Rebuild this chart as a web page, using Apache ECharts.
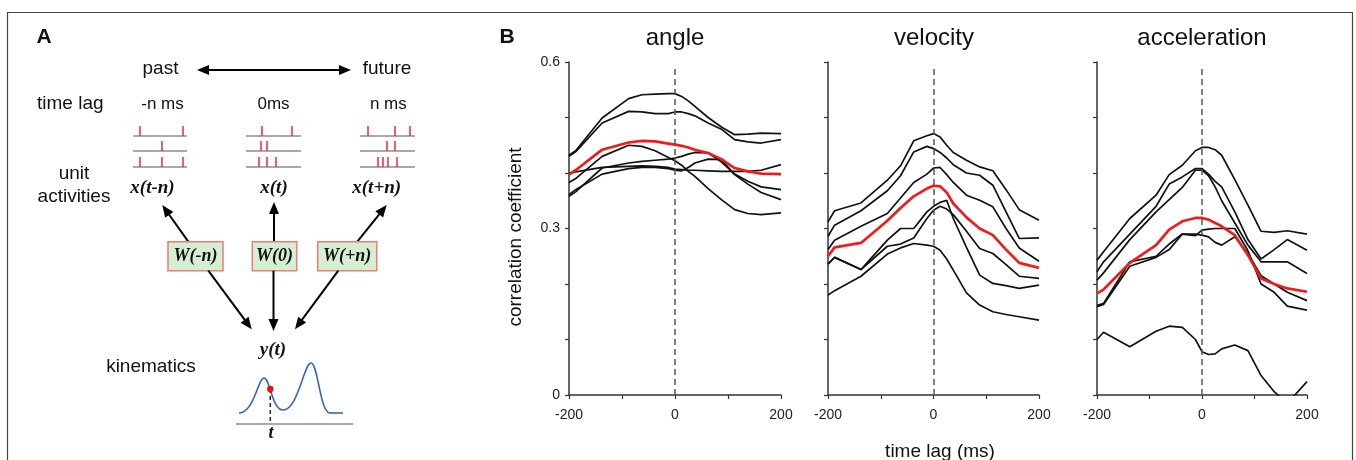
<!DOCTYPE html>
<html>
<head>
<meta charset="utf-8">
<script src="https://cdn.jsdelivr.net/npm/echarts@6/dist/echarts.min.js"></script>
<style>html,body{margin:0;padding:0;background:#fff}#c{width:1356px;height:460px}</style>
</head>
<body>
<div id="c"></div>
<script>
// ---------- DATA ----------
const lags = [-200, -187.5, -137.5, -87.5, -62.5, -37.5, -12.5, 0, 12.5, 25, 37.5, 62.5, 87.5, 112.5, 137.5, 162.5, 200];
const xTickLabels = ['-200', '0', '200'];
const yTickLabels = ['0', '0.3', '0.6'];
const panelTitles = ['angle', 'velocity', 'acceleration'];

const angleUnit1 = [0.432, 0.440, 0.499, 0.534, 0.541, 0.542, 0.543, 0.543, 0.538, 0.530, 0.520, 0.500, 0.483, 0.469, 0.470, 0.472, 0.471];
const angleUnit2 = [0.430, 0.438, 0.490, 0.511, 0.510, 0.507, 0.507, 0.510, 0.510, 0.507, 0.503, 0.490, 0.479, 0.460, 0.456, 0.454, 0.460];
const angleUnit3 = [0.383, 0.390, 0.430, 0.450, 0.448, 0.440, 0.428, 0.422, 0.414, 0.403, 0.394, 0.372, 0.352, 0.334, 0.327, 0.325, 0.328];
const angleUnit4 = [0.400, 0.402, 0.410, 0.412, 0.413, 0.412, 0.410, 0.407, 0.406, 0.405, 0.405, 0.404, 0.403, 0.403, 0.403, 0.405, 0.415];
const angleUnit5 = [0.358, 0.366, 0.409, 0.418, 0.421, 0.423, 0.425, 0.427, 0.430, 0.434, 0.437, 0.436, 0.420, 0.398, 0.385, 0.375, 0.370];
const angleUnit6 = [0.361, 0.370, 0.398, 0.408, 0.410, 0.410, 0.408, 0.405, 0.404, 0.410, 0.418, 0.425, 0.424, 0.397, 0.380, 0.365, 0.352];
const angleMean  = [0.397, 0.405, 0.442, 0.455, 0.458, 0.457, 0.453, 0.451, 0.449, 0.446, 0.442, 0.436, 0.425, 0.409, 0.403, 0.399, 0.398];

const velocityUnit1 = [0.312, 0.332, 0.346, 0.387, 0.413, 0.458, 0.467, 0.471, 0.465, 0.450, 0.437, 0.423, 0.411, 0.404, 0.370, 0.334, 0.315];
const velocityUnit2 = [0.286, 0.306, 0.332, 0.368, 0.395, 0.438, 0.448, 0.444, 0.437, 0.427, 0.415, 0.400, 0.396, 0.378, 0.330, 0.282, 0.283];
const velocityUnit3 = [0.262, 0.279, 0.304, 0.327, 0.355, 0.383, 0.398, 0.409, 0.410, 0.397, 0.383, 0.360, 0.351, 0.339, 0.300, 0.265, 0.241];
const velocityUnit4 = [0.236, 0.248, 0.226, 0.279, 0.300, 0.300, 0.330, 0.340, 0.347, 0.351, 0.318, 0.266, 0.216, 0.201, 0.197, 0.192, 0.198];
const velocityUnit5 = [0.236, 0.248, 0.226, 0.268, 0.272, 0.283, 0.318, 0.333, 0.340, 0.335, 0.325, 0.295, 0.264, 0.255, 0.235, 0.214, 0.210];
const velocityUnit6 = [0.180, 0.188, 0.214, 0.254, 0.265, 0.273, 0.270, 0.268, 0.261, 0.245, 0.225, 0.184, 0.162, 0.150, 0.145, 0.141, 0.135];
const velocityMean  = [0.250, 0.266, 0.274, 0.314, 0.337, 0.358, 0.372, 0.377, 0.376, 0.365, 0.345, 0.320, 0.300, 0.288, 0.262, 0.238, 0.229];

const accelUnit1 = [0.243, 0.258, 0.318, 0.360, 0.397, 0.414, 0.440, 0.446, 0.446, 0.442, 0.432, 0.388, 0.342, 0.295, 0.293, 0.296, 0.290];
const accelUnit2 = [0.222, 0.240, 0.290, 0.340, 0.380, 0.393, 0.408, 0.408, 0.398, 0.385, 0.375, 0.330, 0.280, 0.245, 0.262, 0.280, 0.261];
const accelUnit3 = [0.207, 0.220, 0.280, 0.330, 0.352, 0.374, 0.405, 0.405, 0.395, 0.375, 0.350, 0.310, 0.270, 0.240, 0.240, 0.240, 0.219];
const accelUnit4 = [0.161, 0.165, 0.240, 0.250, 0.272, 0.290, 0.287, 0.297, 0.299, 0.300, 0.300, 0.300, 0.260, 0.200, 0.185, 0.160, 0.153];
const accelUnit5 = [0.159, 0.163, 0.232, 0.248, 0.262, 0.290, 0.290, 0.288, 0.285, 0.275, 0.270, 0.285, 0.255, 0.215, 0.200, 0.185, 0.170];
const accelUnit6 = [0.100, 0.113, 0.087, 0.115, 0.124, 0.122, 0.100, 0.078, 0.073, 0.074, 0.083, 0.090, 0.080, 0.035, 0.006, -0.015, 0.024];
const accelMean  = [0.183, 0.190, 0.238, 0.270, 0.298, 0.313, 0.319, 0.319, 0.316, 0.310, 0.304, 0.288, 0.252, 0.210, 0.200, 0.192, 0.186];

const panelUnits = [
  [angleUnit1, angleUnit2, angleUnit3, angleUnit4, angleUnit5, angleUnit6],
  [velocityUnit1, velocityUnit2, velocityUnit3, velocityUnit4, velocityUnit5, velocityUnit6],
  [accelUnit1, accelUnit2, accelUnit3, accelUnit4, accelUnit5, accelUnit6]
];
const panelMeans = [angleMean, velocityMean, accelMean];

// ---------- LAYOUT ----------
const SANS = '"Liberation Sans", Arial, Helvetica, sans-serif';
const SERIF = '"Liberation Serif", "Times New Roman", serif';
const grids = [
  {left: 569, top: 62, width: 212, height: 333},
  {left: 828, top: 62, width: 211, height: 333},
  {left: 1097, top: 62, width: 210, height: 333}
];

const xAxes = grids.map((g, i) => ({
  type: 'value', gridIndex: i, min: -200, max: 200, interval: 100,
  axisLine: {show: true, onZero: false, lineStyle: {color: '#333', width: 1.5}},
  axisTick: {show: true, length: 4, lineStyle: {color: '#333', width: 1.2}},
  splitLine: {show: false},
  axisLabel: {
    color: '#222', fontSize: 14, fontFamily: SANS, margin: 13,
    formatter: v => { const s = String(Math.round(v)); return xTickLabels.indexOf(s) >= 0 ? s : ''; }
  }
}));
const yAxes = grids.map((g, i) => ({
  type: 'value', gridIndex: i, min: 0, max: 0.6, interval: 0.1,
  axisLine: {show: true, onZero: false, lineStyle: {color: '#333', width: 1.5}},
  axisTick: {show: true, length: 4, lineStyle: {color: '#333', width: 1.2}},
  splitLine: {show: false},
  axisLabel: {
    show: i === 0, color: '#222', fontSize: 14, fontFamily: SANS, margin: 9,
    formatter: v => { const s = String(Math.round(v * 10) / 10); return yTickLabels.indexOf(s) >= 0 ? s : ''; }
  }
}));

const series = [];
panelUnits.forEach((units, p) => {
  units.forEach((vals, k) => {
    const s = {
      type: 'line', xAxisIndex: p, yAxisIndex: p, symbol: 'none', silent: true,
      data: lags.map((x, j) => [x, vals[j]]),
      lineStyle: {color: '#111', width: 1.7}, z: 3, clip: true
    };
    if (k === 0) {
      s.markLine = {
        silent: true, symbol: ['none', 'none'], label: {show: false},
        lineStyle: {color: '#555', width: 1.5, type: [6, 4]},
        data: [[{coord: [0, 0]}, {coord: [0, 0.59]}]]
      };
    }
    series.push(s);
  });
  series.push({
    type: 'line', xAxisIndex: p, yAxisIndex: p, symbol: 'none', silent: true,
    data: lags.map((x, j) => [x, panelMeans[p][j]]),
    lineStyle: {color: '#ee1c1c', width: 2.7}, z: 4
  });
});

// ---------- GRAPHIC (panel A diagram + texts) ----------
const G = [];
function txt(x, y, str, font, opts) {
  opts = opts || {};
  G.push(Object.assign({
    type: 'text', x: x, y: y, silent: true,
    style: {text: str, font: font, fill: opts.fill || '#111',
      textAlign: opts.align || 'center', align: opts.align || 'center',
      textVerticalAlign: 'middle', verticalAlign: 'middle'}
  }, opts.rotation ? {rotation: opts.rotation} : {}));
}
function seg(x1, y1, x2, y2, color, w, dash) {
  G.push({type: 'line', silent: true, shape: {x1, y1, x2, y2},
    style: {stroke: color, lineWidth: w, lineDash: dash || null}});
}
function arrow(x1, y1, x2, y2, both) {
  const L = 12, W = 10;
  const dx = x2 - x1, dy = y2 - y1, len = Math.sqrt(dx * dx + dy * dy);
  const ux = dx / len, uy = dy / len, px = -uy, py = ux;
  const head = (tx, ty, sx, sy) => {
    G.push({type: 'polygon', silent: true, shape: {points: [
      [tx, ty],
      [tx - sx * L + px * W / 2, ty - sy * L + py * W / 2],
      [tx - sx * L - px * W / 2, ty - sy * L - py * W / 2]
    ]}, style: {fill: '#000'}});
  };
  const sx = both ? x1 + ux * (L - 1) : x1, sy = both ? y1 + uy * (L - 1) : y1;
  seg(sx, sy, x2 - ux * (L - 1), y2 - uy * (L - 1), '#000', 2);
  head(x2, y2, ux, uy);
  if (both) head(x1, y1, -ux, -uy);
}

// frame
G.push({type: 'rect', silent: true, shape: {x: 7.5, y: 12.5, width: 1345, height: 480},
  style: {fill: 'none', stroke: '#444', lineWidth: 1.2}});

// panel letters
txt(44, 37, 'A', 'bold 21px ' + SANS, {});
txt(507, 37, 'B', 'bold 21px ' + SANS, {});

// panel A texts
txt(160.5, 69, 'past', '19px ' + SANS);
txt(387, 69, 'future', '19px ' + SANS);
arrow(197, 70, 351, 70, true);
txt(37, 104, 'time lag', '19px ' + SANS, {align: 'left'});
txt(162.5, 104, '-n ms', '17px ' + SANS);
txt(273.5, 104, '0ms', '17px ' + SANS);
txt(388.3, 104, 'n ms', '17px ' + SANS);
txt(74, 173.5, 'unit', '19px ' + SANS);
txt(74, 196.5, 'activities', '19px ' + SANS);
txt(151, 367, 'kinematics', '19px ' + SANS);

// spike rasters
const rasterGroups = [
  {x0: 133, x1: 187, rows: [[140, 183], [162], [140, 162, 183]]},
  {x0: 246, x1: 301, rows: [[262, 292], [261, 267], [259, 267, 276]]},
  {x0: 360, x1: 415, rows: [[368, 395, 410], [387, 395], [378, 383, 388, 397]]}
];
const rowY = [136, 151, 167];
rasterGroups.forEach(g => {
  rowY.forEach((y, r) => {
    seg(g.x0, y, g.x1, y, '#8c8c8c', 1.5);
    g.rows[r].forEach(sx => seg(sx, y - 10, sx, y, '#ec2a35', 1.5));
  });
});

// x labels
const BI = 'italic bold 19px ' + SERIF;
txt(152.5, 188.5, 'x(t-n)', BI);
txt(274, 188.5, 'x(t)', BI);
txt(376.7, 188.5, 'x(t+n)', BI);

// arrows to unit activities
arrow(188.3, 241.7, 162.3, 205);
arrow(274, 241.7, 274, 202);
arrow(357.3, 241.7, 386.7, 205);

// W boxes
const boxes = [
  {x: 168, w: 55, t: 'W(-n)'},
  {x: 252.3, w: 44.4, t: 'W(0)'},
  {x: 317.7, w: 59, t: 'W(+n)'}
];
boxes.forEach(b => {
  G.push({type: 'rect', silent: true, shape: {x: b.x, y: 241.7, width: b.w, height: 29},
    style: {fill: '#d5efd3', stroke: '#f27a78', lineWidth: 1.5}});
  txt(b.x + b.w / 2, 256.5, b.t, 'italic bold 18px ' + SERIF);
});

// arrows to y(t)
arrow(208.3, 270.7, 251.7, 329.3);
arrow(273.5, 270.7, 273.5, 331);
arrow(338.3, 270.7, 295, 329.3);
txt(273, 350, 'y(t)', BI);

// kinematics curve
const blue = '#3567b8';
const curves = [
  [239, 413, 254, 413, 258, 378, 264, 378],
  [264, 378, 270, 378, 272, 410, 283, 410],
  [283, 410, 298, 410, 304, 363, 311, 363],
  [311, 363, 318, 363, 320, 413, 330, 413]
];
curves.forEach(c => G.push({type: 'bezierCurve', silent: true,
  shape: {x1: c[0], y1: c[1], cpx1: c[2], cpy1: c[3], cpx2: c[4], cpy2: c[5], x2: c[6], y2: c[7]},
  style: {stroke: blue, lineWidth: 1.6, fill: 'none'}}));
seg(330, 413, 343, 413, blue, 1.6);
seg(236, 424, 353, 424, '#8c8c8c', 1.5);
seg(270.3, 389, 270.3, 424, '#222', 1.5, [4, 3]);
G.push({type: 'circle', silent: true, shape: {cx: 270.3, cy: 389, r: 3.2}, style: {fill: '#ee1111'}});
txt(271, 433, 't', 'italic bold 18px ' + SERIF);

// panel B texts
const titleX = [675, 934, 1202];
panelTitles.forEach((t, i) => txt(titleX[i], 38, t, '24px ' + SANS));
txt(515.5, 237, 'correlation coefficient', '19px ' + SANS, {rotation: Math.PI / 2});
txt(940, 452, 'time lag (ms)', '19px ' + SANS);

const chart = echarts.init(document.getElementById('c'), null, {renderer: 'canvas'});
chart.setOption({
  animation: false,
  backgroundColor: '#fff',
  grid: grids.map(g => Object.assign({containLabel: false, outerBoundsMode: 'none'}, g)),
  xAxis: xAxes,
  yAxis: yAxes,
  series: series,
  graphic: {elements: G}
});
</script>
</body>
</html>
